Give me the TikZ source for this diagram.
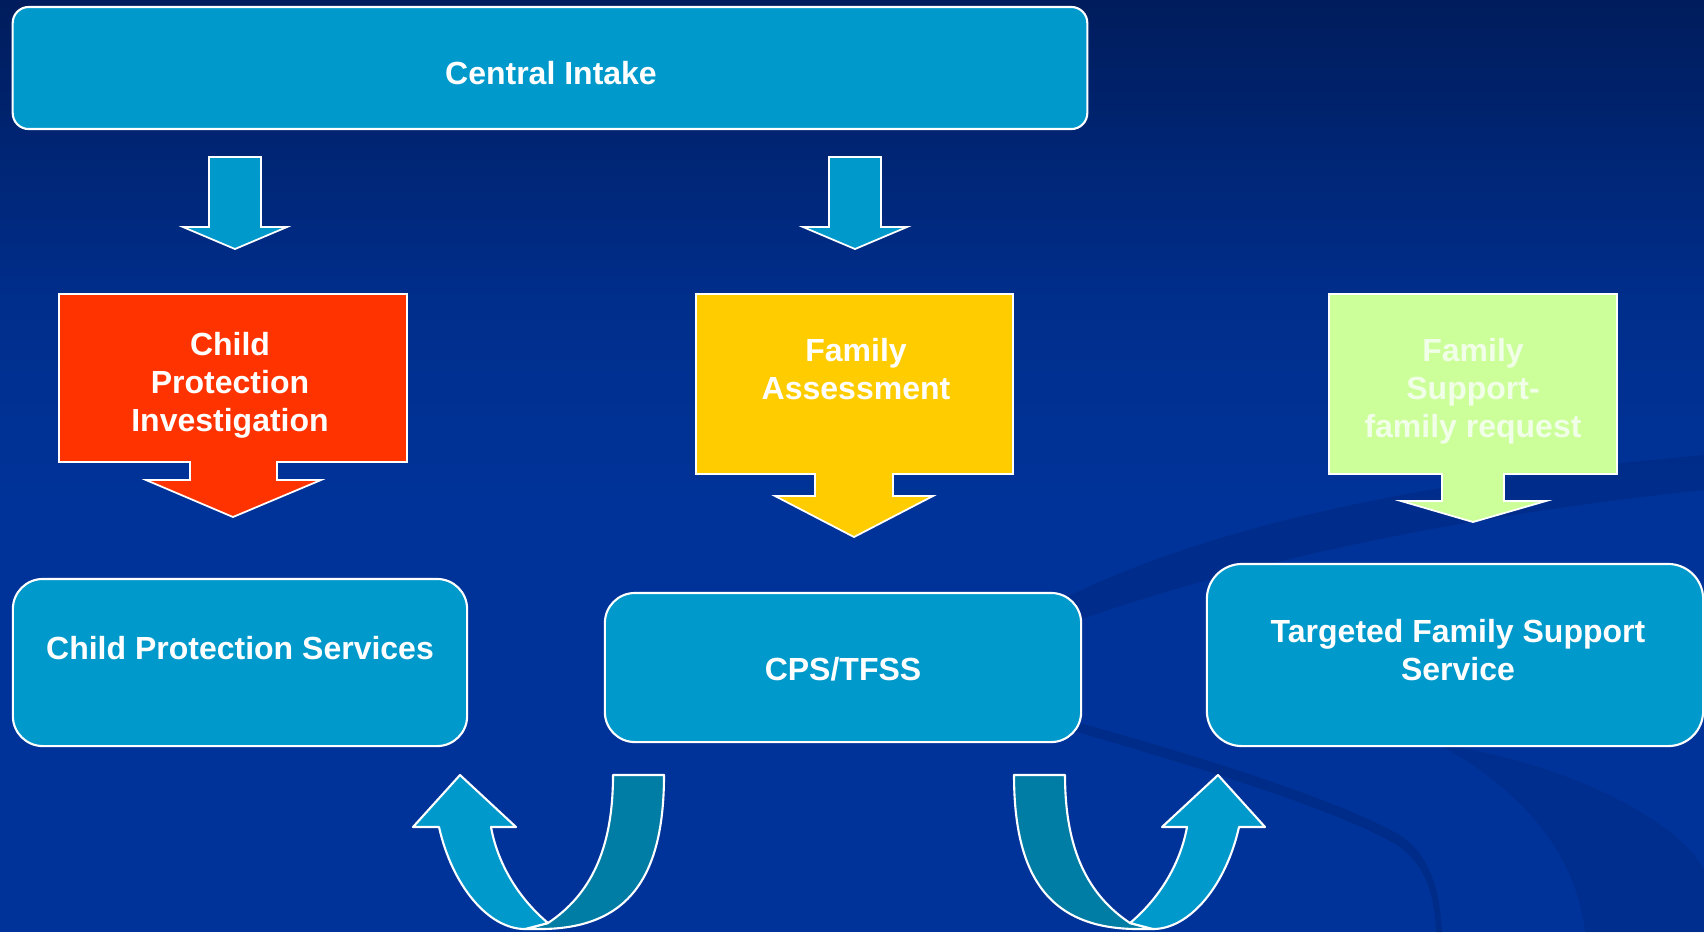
\documentclass[tikz,border=0pt]{standalone}
\usepackage{fontspec}
\setmainfont{Liberation Sans}
\definecolor{bgA}{RGB}{0,28,92}
\definecolor{bgB}{RGB}{0,46,140}
\definecolor{bgC}{RGB}{0,51,153}
\definecolor{swoosh}{RGB}{0,34,115}
\definecolor{cyanbox}{RGB}{0,153,204}
\definecolor{tealband}{RGB}{0,125,165}
\definecolor{redbox}{RGB}{255,51,0}
\definecolor{yellowbox}{RGB}{255,204,0}
\definecolor{greenbox}{RGB}{204,255,153}
\definecolor{greentext}{RGB}{242,255,232}
\newcommand\uturnarrow{%
  \filldraw[tealband,draw=white,line width=0.6pt,line join=round]
    (613,775) -- (664,775) .. controls (664,875) and (630,929) .. (540,929)
    -- (525,929) -- (548,923) .. controls (590,895) and (613,850) .. (613,775) -- cycle;
  \filldraw[cyanbox,draw=white,line width=0.6pt,line join=round]
    (548,923) .. controls (515,895) and (497,860) .. (491,827) -- (516,827) -- (460,775)
    -- (413,827) -- (439,827) .. controls (452,885) and (488,929) .. (525,929) -- cycle;
}
\begin{document}
\begin{tikzpicture}[x=0.01cm,y=-0.01cm,
  txt/.style={text=white,font=\bfseries\fontsize{9.1}{10.8}\selectfont,align=center,inner sep=0pt},
  rbox/.style={draw=white,line width=0.6pt,fill=cyanbox,rounded corners=0.3cm,inner sep=0pt},
  blk/.style={draw=white,line width=0.5pt,line join=miter},
  swo/.style={fill=swoosh,opacity=0.35}]
\useasboundingbox (0,0) rectangle (1704,932);
% background
\fill[top color=bgA,bottom color=bgB] (0,0) rectangle (1704,302);
\fill[top color=bgB,bottom color=bgC] (0,300) rectangle (1704,502);
\fill[bgC] (0,500) rectangle (1704,932);
% swooshes
\fill[swo] (990,655) .. controls (1150,585) and (1400,522) .. (1704,490)
  -- (1704,455) .. controls (1400,482) and (1150,535) .. (990,640) -- cycle;
\fill[swo,opacity=0.4] (1000,702) .. controls (1150,740) and (1330,795) .. (1400,835)
  .. controls (1430,855) and (1440,890) .. (1442,932) -- (1436,932)
  .. controls (1434,893) and (1425,864) .. (1397,845)
  .. controls (1327,804) and (1148,752) .. (1000,710) -- cycle;
\fill[swo,opacity=0.28] (1440,745) .. controls (1560,760) and (1680,820) .. (1704,870)
  -- (1704,932) -- (1585,932) .. controls (1575,850) and (1520,790) .. (1440,745) -- cycle;
% top box
\node[rbox,rounded corners=0.16cm,minimum width=10.74cm,minimum height=1.22cm] (ci) at (550,68) {};
\node[txt,anchor=base] (ci-t) at (551,84) {Central Intake};
% down arrows
\filldraw[blk,fill=cyanbox] (209,157) -- (261,157) -- (261,227) -- (287,227) -- (235,249)
  -- (183,227) -- (209,227) -- cycle;
\filldraw[blk,fill=cyanbox] (829,157) -- (881,157) -- (881,227) -- (907,227) -- (855,249)
  -- (803,227) -- (829,227) -- cycle;
% callouts
\filldraw[blk,fill=redbox] (59,294) -- (407,294) -- (407,462) -- (277,462) -- (277,480)
  -- (321,480) -- (233,517) -- (146,480) -- (190,480) -- (190,462) -- (59,462) -- cycle;
\node[txt] (cpi-t) at (230,385) {Child\\Protection\\Investigation};
\filldraw[blk,fill=yellowbox] (696,294) -- (1013,294) -- (1013,474) -- (893,474) -- (893,496)
  -- (933,496) -- (854,537) -- (775,496) -- (815,496) -- (815,474) -- (696,474) -- cycle;
\node[txt] (fa-t) at (856,369) {Family\\Assessment};
\filldraw[blk,fill=greenbox] (1329,294) -- (1617,294) -- (1617,474) -- (1504,474) -- (1504,501)
  -- (1546,501) -- (1473,522) -- (1401,501) -- (1442,501) -- (1442,474) -- (1329,474) -- cycle;
\node[txt,text=greentext] (fs-t) at (1473,391) {Family\\Support-\\family request};
% bottom boxes
\node[rbox,minimum width=4.54cm,minimum height=1.67cm] (cps) at (240,662.5) {};
\node[txt,anchor=base] (cps-t) at (240,659) {Child Protection Services};
\node[rbox,minimum width=4.76cm,minimum height=1.49cm] (tfss) at (843,667.5) {};
\node[txt,anchor=base] (tfss-t) at (843,680) {CPS/TFSS};
\node[rbox,rounded corners=0.35cm,minimum width=4.96cm,minimum height=1.82cm] (tfs) at (1455,655) {};
\node[txt] (tfs-t) at (1458,650) {Targeted Family Support\\Service};
% u-turn arrows
\uturnarrow
\begin{scope}[shift={(1678,0)},xscale=-1]
\uturnarrow
\end{scope}
\end{tikzpicture}
\end{document}
